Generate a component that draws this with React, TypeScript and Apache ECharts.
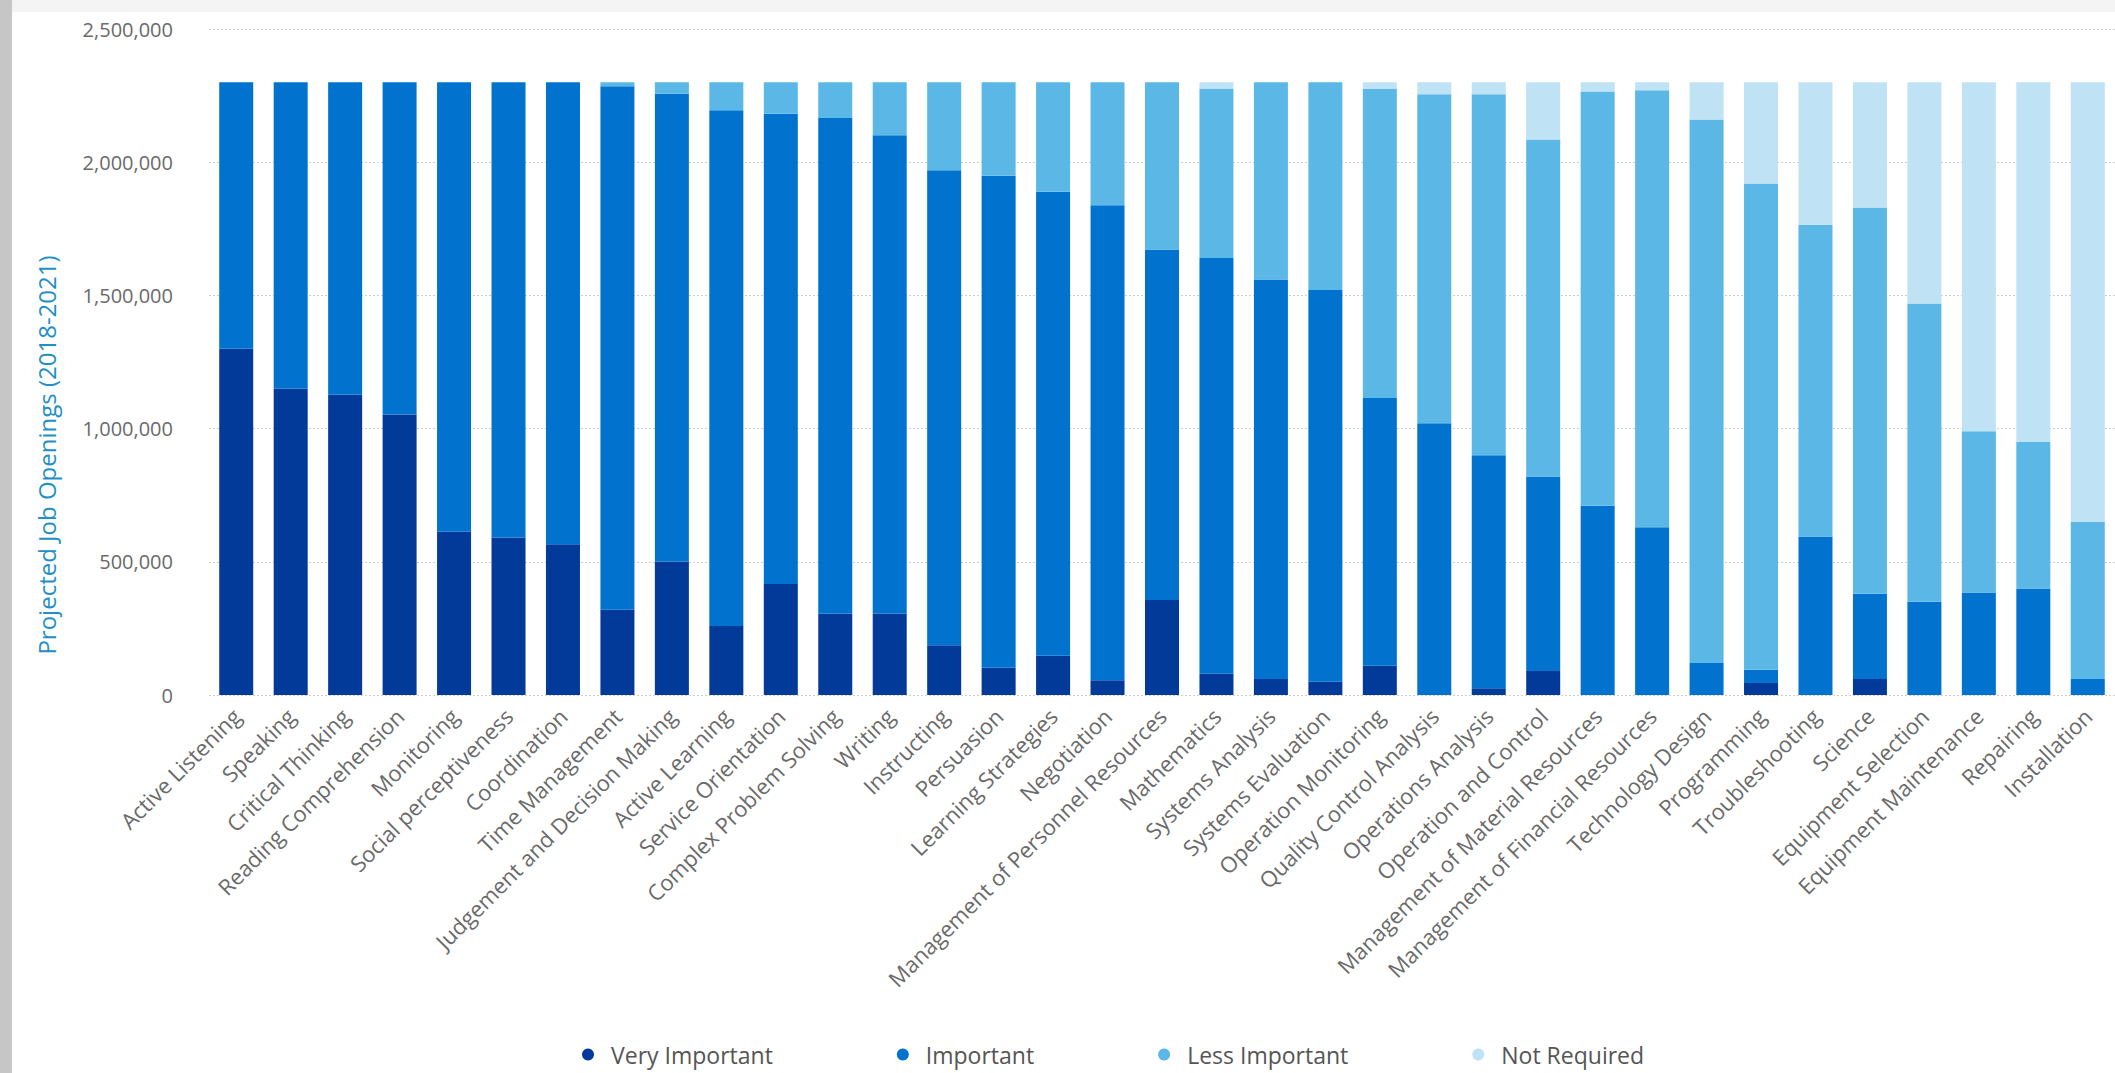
import React, { useEffect, useRef } from "react";
import * as echarts from "echarts";

const categories = [
  "Active Listening", "Speaking", "Critical Thinking", "Reading Comprehension", "Monitoring",
  "Social perceptiveness", "Coordination", "Time Management", "Judgement and Decision Making",
  "Active Learning", "Service Orientation", "Complex Problem Solving", "Writing", "Instructing",
  "Persuasion", "Learning Strategies", "Negotiation", "Management of Personnel Resources",
  "Mathematics", "Systems Analysis", "Systems Evaluation", "Operation Monitoring",
  "Quality Control Analysis", "Operations Analysis", "Operation and Control",
  "Management of Material Resources", "Management of Financial Resources", "Technology Design",
  "Programming", "Troubleshooting", "Science", "Equipment Selection", "Equipment Maintenance",
  "Repairing", "Installation",
];

const veryImportant = [
  1300000, 1150000, 1127000, 1053000, 613000, 591000, 566000, 320000, 501000,
  259000, 417000, 305000, 305000, 187000, 102000, 147000, 55000, 357000,
  80000, 60000, 50000, 110000, 0, 25000, 90000, 0, 0, 0,
  45000, 0, 60000, 0, 0, 0, 0,
];
const important = [
  1000000, 1150000, 1173000, 1247000, 1687000, 1709000, 1734000, 1965000, 1756000,
  1936000, 1765000, 1861000, 1796000, 1783000, 1847000, 1742000, 1783000, 1315000,
  1560000, 1500000, 1470000, 1005000, 1020000, 875000, 730000, 710000, 630000, 120000,
  50000, 595000, 320000, 350000, 385000, 400000, 60000,
];
const lessImportant = [
  0, 0, 0, 0, 0, 0, 0, 15000, 43000,
  105000, 118000, 134000, 199000, 330000, 351000, 411000, 462000, 628000,
  637000, 740000, 780000, 1160000, 1235000, 1355000, 1265000, 1555000, 1640000, 2040000,
  1825000, 1170000, 1450000, 1120000, 605000, 550000, 590000,
];
const notRequired = [
  0, 0, 0, 0, 0, 0, 0, 0, 0,
  0, 0, 0, 0, 0, 0, 0, 0, 0,
  23000, 0, 0, 25000, 45000, 45000, 215000, 35000, 30000, 140000,
  380000, 535000, 470000, 830000, 1310000, 1350000, 1650000,
];

const seriesNames = ["Very Important", "Important", "Less Important", "Not Required"];
const seriesColors = ["#023a9a", "#0173cf", "#5bb8e6", "#bfe2f5"];
const yAxisTitle = "Projected Job Openings (2018-2021)";

export default function App() {
  const ref = useRef<HTMLDivElement>(null);
  useEffect(() => {
    if (!ref.current) return;
    const chart = echarts.init(ref.current, undefined, { renderer: "svg" });
    const font = "'Open Sans', 'DejaVu Sans', sans-serif";
    const data = [veryImportant, important, lessImportant, notRequired];
    chart.setOption({
      animation: false,
      backgroundColor: "#ffffff",
      textStyle: { fontFamily: font },
      grid: { left: 209, top: 29, height: 666, width: 1911, containLabel: false },
      legend: {
        data: seriesNames,
        icon: "circle",
        itemWidth: 12,
        itemHeight: 12,
        itemGap: 124,
        left: 577,
        top: 1038,
        textStyle: { fontSize: 23, color: "#555", fontFamily: font, padding: [0, 0, 0, 12] },
      },
      xAxis: {
        type: "category",
        data: categories,
        axisLine: { show: false },
        axisTick: { show: false },
        axisLabel: {
          interval: 0,
          rotate: 45,
          fontSize: 22,
          color: "#6a6a6a",
          margin: 17,
          fontFamily: font,
        },
      },
      yAxis: {
        type: "value",
        min: 0,
        max: 2500000,
        interval: 500000,
        axisLine: { show: false },
        axisTick: { show: false },
        axisLabel: {
          fontSize: 20,
          color: "#6a6a6a",
          margin: 36,
          fontFamily: font,
          formatter: (v: number) => v.toLocaleString("en-US"),
        },
        splitLine: { lineStyle: { color: "#cfcfcf", type: [2, 2], width: 1 } },
      },
      graphic: [
        { type: "rect", shape: { x: 0, y: 0, width: 2115, height: 12 }, style: { fill: "#f4f4f4" }, silent: true },
        { type: "rect", shape: { x: 0, y: 0, width: 12, height: 1073 }, style: { fill: "#c6c6c6" }, silent: true },
        {
          type: "text",
          x: 46,
          y: 455,
          rotation: Math.PI / 2,
          style: {
            text: yAxisTitle,
            fill: "#1f8fc6",
            font: `24px ${font}`,
            textAlign: "center",
            textVerticalAlign: "middle",
          },
        },
      ],
      series: seriesNames.map((name, i) => ({
        name,
        type: "bar",
        stack: "total",
        barWidth: 34,
        itemStyle: { color: seriesColors[i] },
        data: data[i],
      })),
    });
    return () => chart.dispose();
  }, []);
  return (
    <div
      ref={ref}
      style={{ position: "absolute", left: 0, top: 0, width: 2115, height: 1073 }}
    />
  );
}
